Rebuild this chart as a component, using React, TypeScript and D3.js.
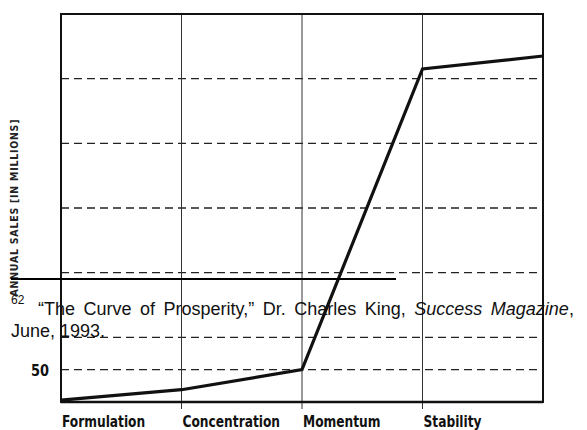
import React from 'react';
import * as d3 from 'd3';

// stages of the curve, the fifth point is the end of the plot
const stages = ['Formulation', 'Concentration', 'Momentum', 'Stability'];
const salesValues = [3, 19, 50, 515, 535];
const gridValues = [50, 100, 200, 300, 400, 500];
const tickLabels = [{ value: 50, label: '50' }];
const yLabel = 'ANNUAL SALES [IN MILLIONS]';

const width = 587;
const height = 430;
const margin = { top: 14, right: 44, bottom: 28, left: 61 };

const condensed = '"DejaVu Sans Condensed", "DejaVu Sans", sans-serif';

function App() {
  const x = d3
    .scaleLinear()
    .domain([0, salesValues.length - 1])
    .range([margin.left, width - margin.right]);

  const y = d3
    .scaleLinear()
    .domain([0, 600])
    .range([height - margin.bottom, margin.top]);

  const line = d3
    .line<number>()
    .x((_, i) => x(i))
    .y((d) => y(d));

  const x0 = x(0);
  const x1 = x(salesValues.length - 1);

  return (
    <svg
      width={width}
      height={height}
      style={{ position: 'absolute', left: 0, top: 0, background: '#fff' }}
    >
      {/* dashed horizontal grid */}
      {gridValues.map((v) => (
        <line
          key={v}
          x1={x0}
          x2={x1}
          y1={y(v)}
          y2={y(v)}
          stroke="#222"
          strokeWidth={1.4}
          strokeDasharray="8,5"
        />
      ))}

      {/* vertical stage lines */}
      {stages.slice(1).map((s, i) => (
        <line
          key={s}
          x1={x(i + 1)}
          x2={x(i + 1)}
          y1={y(600)}
          y2={y(0) + 7}
          stroke="#333"
          strokeWidth={1}
        />
      ))}

      {/* frame */}
      <rect
        x={x0}
        y={y(600)}
        width={x1 - x0}
        height={y(0) - y(600)}
        fill="none"
        stroke="#111"
        strokeWidth={2}
      />
      <line x1={x0} x2={x1} y1={y(0)} y2={y(0)} stroke="#111" strokeWidth={2.5} />

      {/* sales curve */}
      <path
        d={line(salesValues) || ''}
        fill="none"
        stroke="#111"
        strokeWidth={3.2}
        strokeLinejoin="miter"
      />

      {/* tick label */}
      {tickLabels.map((t) => (
        <text
          key={t.label}
          transform={`translate(49, ${y(t.value) + 6}) scale(0.9, 1)`}
          textAnchor="end"
          fontFamily={condensed}
          fontWeight="bold"
          fontSize={16}
          fill="#111"
        >
          {t.label}
        </text>
      ))}

      {/* stage labels */}
      {stages.map((s, i) => (
        <text
          key={s}
          transform={`translate(${x(i) + 1}, 427) scale(0.85, 1)`}
          fontFamily={condensed}
          fontWeight="bold"
          fontSize={16}
          fill="#111"
        >
          {s}
        </text>
      ))}

      {/* y axis title */}
      <text
        transform="translate(18, 208) rotate(-90)"
        textAnchor="middle"
        fontFamily={condensed}
        fontSize={10.5}
        fontWeight="bold"
        textLength={177}
        lengthAdjust="spacing"
        fill="#222"
      >
        {yLabel}
      </text>

      {/* footnote overlapping the scan */}
      <line x1={11} x2={396} y1={279} y2={279} stroke="#000" strokeWidth={2} />
      <g fontFamily='"Liberation Sans", Arial, sans-serif' fill="#111">
        <text x={11} y={304} fontSize={12}>62</text>
        <text x={38} y={315} fontSize={18} wordSpacing={3.5}>
          “The Curve of Prosperity,” Dr. Charles King,{' '}
          <tspan fontStyle="italic">Success Magazine</tspan>,
        </text>
        <text x={11} y={337} fontSize={18}>June, 1993.</text>
      </g>
    </svg>
  );
}

export default App;
